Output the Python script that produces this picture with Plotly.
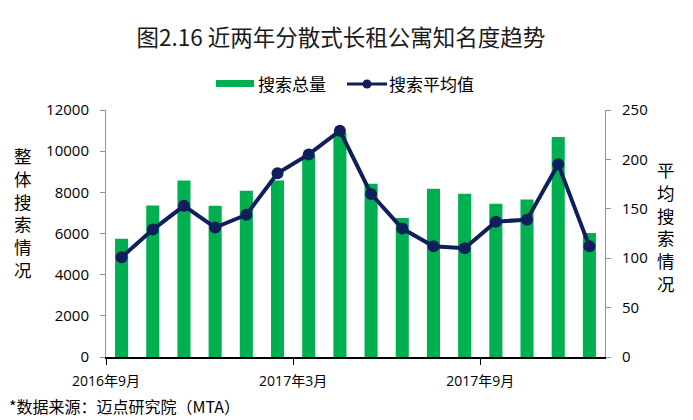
import plotly.graph_objects as go

months = ["2016年9月", "2016年10月", "2016年11月", "2016年12月", "2017年1月", "2017年2月",
          "2017年3月", "2017年4月", "2017年5月", "2017年6月", "2017年7月", "2017年8月",
          "2017年9月", "2017年10月", "2017年11月", "2017年12月"]
total_search = [5750, 7360, 8580, 7350, 8080, 8580, 9810, 10900,
                8420, 6750, 8170, 7930, 7440, 7650, 10690, 6030]
avg_search = [101, 129, 153, 131, 144, 186, 205, 229,
              165, 130, 112, 110, 137, 139, 195, 112]
tick_labels = ["2016年9月", "2017年3月", "2017年9月"]

x_idx = list(range(len(months)))
tick_pos = [months.index(t) - 0.5 for t in tick_labels]

FONT = "Open Sans, Noto Sans CJK SC, sans-serif"
CJK = "Noto Sans CJK SC"
GREEN = "#00B050"
NAVY = "#0E1F5B"
AXIS_BLUE = "#8497B0"

# page has an 8px body offset; figure is sized to fit the 693x420 window
W, H = 685, 412
L, T, R, B = 98, 102, 88, 63
PW, PH = W - L - R, H - T - B


def px(page_x):
    return (page_x - 8 - L) / PW


def py(page_y):
    return (H - B - (page_y - 8)) / PH


fig = go.Figure()
fig.add_trace(go.Bar(
    x=x_idx, y=total_search, name="搜索总量",
    marker=dict(color=GREEN, line=dict(width=0)), width=0.42,
    yaxis="y", hovertext=months,
))
fig.add_trace(go.Scatter(
    x=x_idx, y=avg_search, name="搜索平均值", mode="lines+markers",
    line=dict(color=NAVY, width=4), marker=dict(color=NAVY, size=12),
    yaxis="y2", hovertext=months,
))

fig.update_layout(
    width=W, height=H,
    margin=dict(l=L, r=R, t=T, b=B),
    paper_bgcolor="white", plot_bgcolor="white",
    font=dict(family=FONT, color="#000000", size=15),
    showlegend=False,
    xaxis=dict(range=[-0.5, len(months) - 0.5], tickmode="array", tickvals=tick_pos,
               ticktext=tick_labels, showgrid=False, zeroline=False,
               showline=True, linecolor="#000000", linewidth=1.5,
               ticks="outside", ticklen=6, tickcolor="#000000",
               ticklabelstandoff=4,
               tickfont=dict(size=14, family=FONT)),
    yaxis=dict(range=[0, 12000], dtick=2000, showgrid=False, zeroline=False,
               showline=True, linecolor=AXIS_BLUE, linewidth=1,
               ticks="outside", ticklen=5, tickcolor=AXIS_BLUE,
               ticklabelstandoff=8,
               tickfont=dict(size=15), tickformat="d"),
    yaxis2=dict(range=[0, 250], dtick=50, overlaying="y", side="right",
                showgrid=False, zeroline=False, showline=True, linecolor=AXIS_BLUE,
                linewidth=1, ticks="outside", ticklen=5, tickcolor=AXIS_BLUE,
                ticklabelstandoff=8,
                tickfont=dict(size=15)),
    title=dict(text="图2.16 近两年分散式长租公寓知名度趋势", x=(341 - 8) / W, xanchor="center",
               y=1 - (38 - 8) / H, yanchor="middle",
               font=dict(size=22.5, family=CJK, color="#1a1a1a")),
)

# custom legend
fig.add_shape(type="rect", xref="paper", yref="paper",
              x0=px(216), x1=px(254), y0=py(87), y1=py(80),
              fillcolor=GREEN, line=dict(width=0))
fig.add_annotation(text="搜索总量", xref="paper", yref="paper", x=px(256), y=py(84),
                   xanchor="left", yanchor="middle", showarrow=False,
                   font=dict(size=17, family=CJK))
fig.add_shape(type="line", xref="paper", yref="paper",
              x0=px(347), x1=px(387), y0=py(84), y1=py(84),
              line=dict(color=NAVY, width=3))
fig.add_shape(type="circle", xref="paper", yref="paper",
              x0=px(362.5), x1=px(371.5), y0=py(88.5), y1=py(79.5),
              fillcolor=NAVY, line=dict(width=0))
fig.add_annotation(text="搜索平均值", xref="paper", yref="paper", x=px(387), y=py(84),
                   xanchor="left", yanchor="middle", showarrow=False,
                   font=dict(size=17, family=CJK))

# vertical axis titles, one character per line
left_title = "整体搜索情况"
right_title = "平均搜索情况"
fig.add_annotation(text="<br>".join(left_title), xref="paper", yref="paper",
                   x=px(23), y=py(212), xanchor="center", yanchor="middle",
                   showarrow=False, align="center",
                   font=dict(size=17.5, family=CJK))
fig.add_annotation(text="<br>".join(right_title), xref="paper", yref="paper",
                   x=px(666), y=py(226), xanchor="center", yanchor="middle",
                   showarrow=False, align="center",
                   font=dict(size=17.5, family=CJK))

fig.add_annotation(text="*数据来源：迈点研究院（MTA）", xref="paper", yref="paper",
                   x=px(7), y=py(406), xanchor="left", yanchor="middle", showarrow=False,
                   font=dict(size=16, family=CJK))

fig.write_html("out.html")
